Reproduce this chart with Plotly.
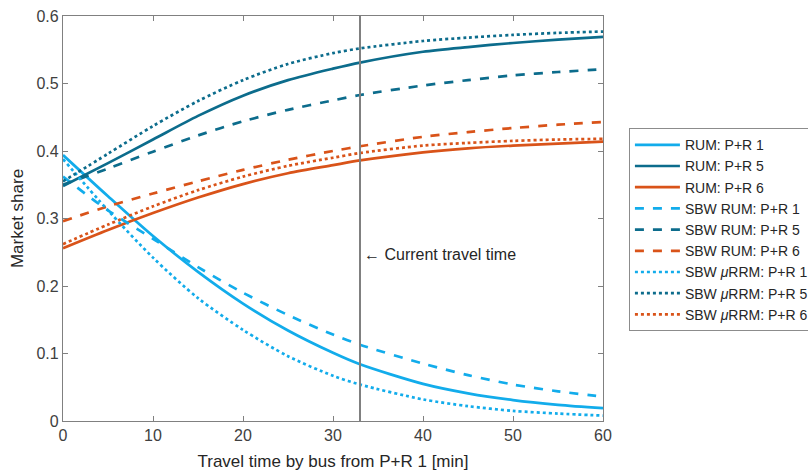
import plotly.graph_objects as go

# Travel time by bus from P+R 1 [min]
travel_time = [0, 5, 10, 15, 20, 25, 30, 33, 40, 45, 50, 55, 60]

# Market shares per model and P+R site
rum_pr1 = [0.394, 0.333, 0.274, 0.221, 0.174, 0.134, 0.101, 0.084, 0.055, 0.041, 0.031, 0.024, 0.019]
rum_pr5 = [0.348, 0.382, 0.417, 0.452, 0.482, 0.505, 0.522, 0.531, 0.547, 0.554, 0.560, 0.565, 0.569]
rum_pr6 = [0.256, 0.283, 0.308, 0.331, 0.351, 0.367, 0.379, 0.386, 0.398, 0.404, 0.408, 0.411, 0.414]

sbw_rum_pr1 = [0.362, 0.312, 0.270, 0.228, 0.190, 0.157, 0.128, 0.113, 0.085, 0.068, 0.054, 0.044, 0.036]
sbw_rum_pr5 = [0.350, 0.374, 0.399, 0.423, 0.444, 0.461, 0.475, 0.483, 0.497, 0.505, 0.512, 0.517, 0.521]
sbw_rum_pr6 = [0.296, 0.318, 0.337, 0.355, 0.372, 0.387, 0.400, 0.407, 0.421, 0.428, 0.434, 0.439, 0.443]

sbw_rrm_pr1 = [0.388, 0.312, 0.242, 0.182, 0.135, 0.096, 0.067, 0.054, 0.032, 0.022, 0.015, 0.011, 0.008]
sbw_rrm_pr5 = [0.355, 0.396, 0.437, 0.474, 0.505, 0.529, 0.545, 0.552, 0.563, 0.568, 0.572, 0.575, 0.577]
sbw_rrm_pr6 = [0.262, 0.291, 0.318, 0.342, 0.362, 0.378, 0.390, 0.397, 0.408, 0.412, 0.415, 0.417, 0.418]

current_time = 33

C1 = "#12ACEB"
C5 = "#0C6C8C"
C6 = "#D95319"

FONT = "Liberation Sans, Arial"

series = [
    ("RUM: P+R 1", rum_pr1, C1, "solid"),
    ("RUM: P+R 5", rum_pr5, C5, "solid"),
    ("RUM: P+R 6", rum_pr6, C6, "solid"),
    ("SBW RUM: P+R 1", sbw_rum_pr1, C1, "dash"),
    ("SBW RUM: P+R 5", sbw_rum_pr5, C5, "dash"),
    ("SBW RUM: P+R 6", sbw_rum_pr6, C6, "dash"),
    ("SBW <i>μ</i>RRM: P+R 1", sbw_rrm_pr1, C1, "dot"),
    ("SBW <i>μ</i>RRM: P+R 5", sbw_rrm_pr5, C5, "dot"),
    ("SBW <i>μ</i>RRM: P+R 6", sbw_rrm_pr6, C6, "dot"),
]

fig = go.Figure()
for name, vals, color, dash in series:
    fig.add_trace(go.Scatter(
        x=travel_time, y=vals, mode="lines", name=name,
        line=dict(color=color, width=2.7, dash=dash, shape="spline", smoothing=0.8),
    ))

# Current travel time marker
fig.add_shape(type="line", x0=current_time, x1=current_time, y0=0, y1=0.6,
              xref="x", yref="y", line=dict(color="#808080", width=2))
fig.add_annotation(x=current_time, y=0.247, xref="x", yref="y",
                   text="← Current travel time", showarrow=False,
                   xanchor="left", xshift=2,
                   font=dict(family=FONT, size=16, color="#262626"))

axis_common = dict(
    showgrid=False, zeroline=False, showline=True, linecolor="#808080", linewidth=1.3,
    mirror="ticks", ticks="inside", ticklen=5, tickcolor="#808080",
    tickfont=dict(family=FONT, size=16, color="#404040"),
    automargin=False,
)

fig.update_layout(
    width=808, height=471,
    margin=dict(l=63, r=205, t=16, b=50, autoexpand=False),
    paper_bgcolor="white", plot_bgcolor="white",
    xaxis=dict(range=[0, 60], tickvals=[0, 10, 20, 30, 40, 50, 60],
               title=dict(text="Travel time by bus from P+R 1 [min]", standoff=12,
                          font=dict(family=FONT, size=17, color="#262626")),
               **axis_common),
    yaxis=dict(range=[0, 0.6], tickvals=[0, 0.1, 0.2, 0.3, 0.4, 0.5, 0.6],
               ticktext=["0", "0.1", "0.2", "0.3", "0.4", "0.5", "0.6"],
               title=dict(text="Market share", standoff=8,
                          font=dict(family=FONT, size=17, color="#262626")),
               **axis_common),
    legend=dict(x=1.048, y=0.723, xanchor="left", yanchor="top",
                bordercolor="#8c8c8c", borderwidth=1, bgcolor="white",
                font=dict(family=FONT, size=14, color="#262626"),
                tracegroupgap=0, itemwidth=45),
    showlegend=True,
)

fig.write_html("out.html")
